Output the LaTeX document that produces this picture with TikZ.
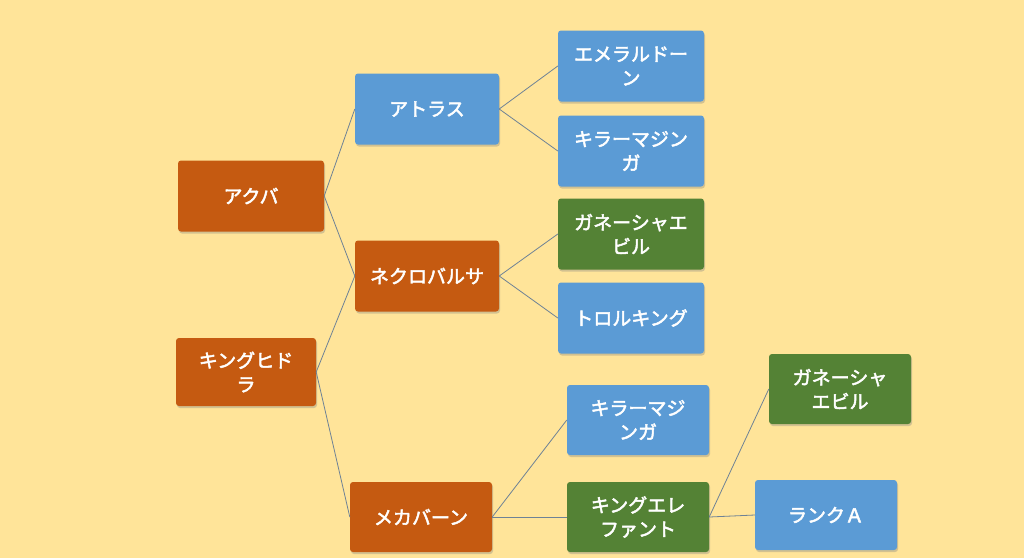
\documentclass[tikz,border=0pt]{standalone}
\usepackage{fontspec}
\setmainfont{Noto Sans CJK JP}[AutoFakeBold=2.5]
\usetikzlibrary{positioning,shadows}
\definecolor{bgyellow}{RGB}{255,228,153}
\definecolor{rust}{RGB}{197,90,17}
\definecolor{skyblue}{RGB}{91,155,213}
\definecolor{leafgreen}{RGB}{84,130,53}
\definecolor{linkgray}{RGB}{110,130,150}

\begin{document}
\begin{tikzpicture}
              [x=1pt,y=-1pt,
                box/.style={rectangle,rounded corners=3pt,draw=none,text=white,
                  font=\fontsize{19}{24}\selectfont\bfseries,align=center,
                  minimum width=144pt,minimum height=71pt,inner sep=2pt,
                  drop shadow={opacity=0.35,shadow xshift=1pt,shadow yshift=-2pt}},
                root/.style={box,fill=rust},
                mid/.style={box,fill=skyblue},
                leaf/.style={box,fill=leafgreen},
                link/.style={draw=linkgray,line width=0.8pt}]
              \fill[bgyellow] (0,0) rectangle (1024,558);
              \node[root,minimum width=146pt] (akuba) at (251,196) {アクバ};
              \node[root,minimum width=140pt,minimum height=68pt] (hydra) at (246,372) {キングヒド\\ラ};
              \node[mid] (atlas) at (427,109) {アトラス};
              \node[root] (necro) at (427,276) {ネクロバルサ};
              \node[root,minimum width=142pt,minimum height=70pt] (mecha) at (421,517) {メカバーン};
              \node[mid,minimum width=146pt] (emerald) at (631,66) {エメラルドー\\ン};
              \node[mid,minimum width=146pt] (killer1) at (631,151) {キラーマジン\\ガ};
              \node[leaf,minimum width=146pt] (ganesha1) at (631,234) {ガネーシャエ\\ビル};
              \node[mid,minimum width=146pt] (troll) at (631,318) {トロルキング};
              \node[mid,minimum width=142pt,minimum height=70pt] (killer2) at (638,420) {キラーマジ\\ンガ};
              \node[leaf,minimum width=142pt,minimum height=70pt] (elephant) at (638,517) {キングエレ\\ファント};
              \node[leaf,minimum width=142pt,minimum height=70pt] (ganesha2) at (840,389) {ガネーシャ\\エビル};
              \node[mid,minimum width=142pt,minimum height=70pt] (rankA) at (826,515) {ランクＡ};
              \foreach \from/\to in {akuba/atlas,akuba/necro,hydra/necro,hydra/mecha,
                atlas/emerald,atlas/killer1,necro/ganesha1,necro/troll,
                mecha/killer2,mecha/elephant,elephant/ganesha2,elephant/rankA}
              \draw[link] (\from.east) -- (\to.west);
            \end{tikzpicture}
\end{document}
